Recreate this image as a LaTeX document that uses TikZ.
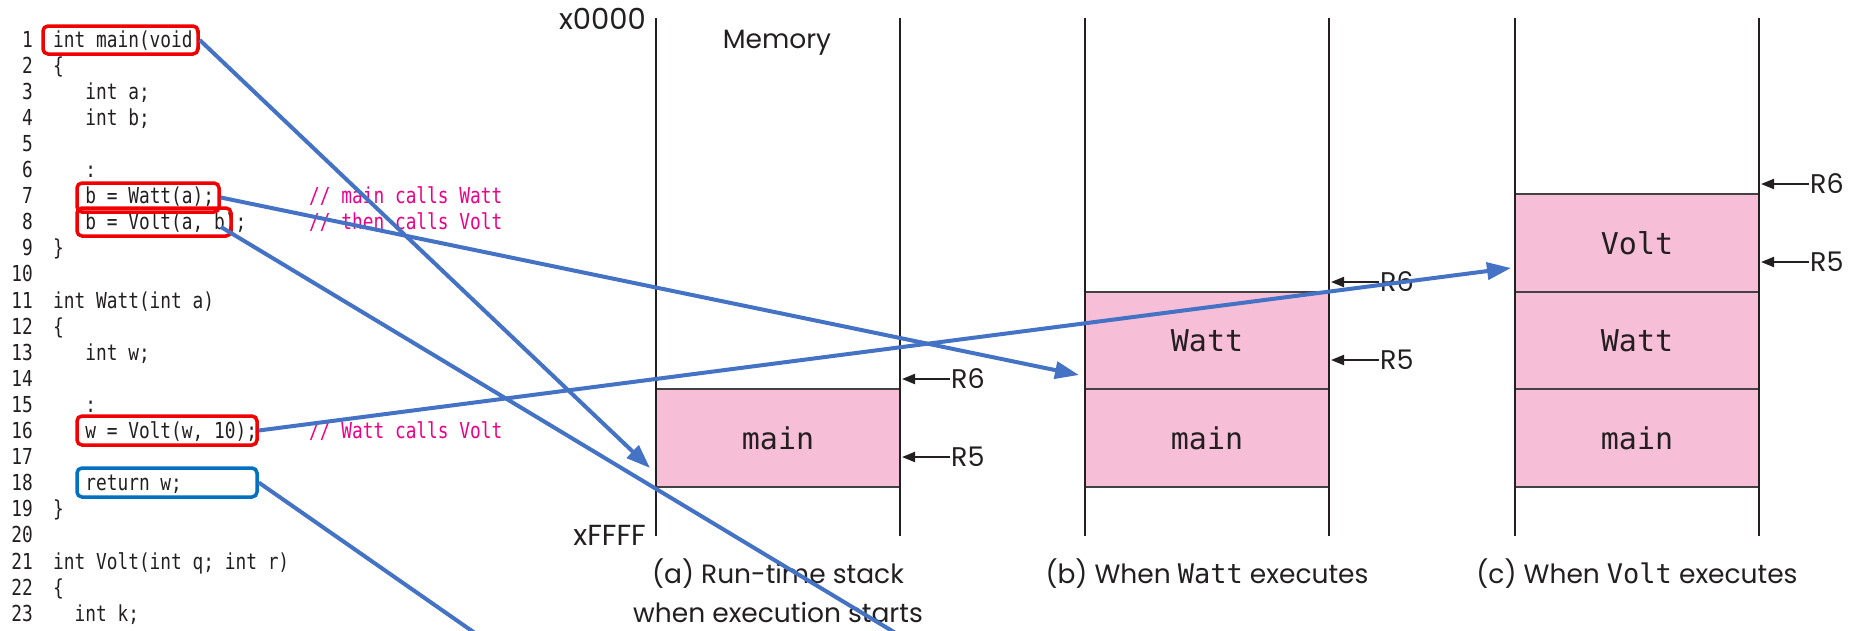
\documentclass[tikz,border=0pt]{standalone}
\usepackage{fontspec}
\usetikzlibrary{arrows.meta,calc}
\newfontfamily\codefont[FakeStretch=0.81]{DejaVu Sans Mono}
\newfontfamily\monofont{DejaVu Sans Mono}
\newfontfamily\labelfont{Poppins}
\definecolor{ink}{HTML}{231F20}
\definecolor{framepink}{HTML}{F7BFD7}
\definecolor{linkblue}{HTML}{4472C4}
\definecolor{callred}{RGB}{240,0,0}
\definecolor{retblue}{HTML}{0070C0}
\definecolor{comment}{RGB}{235,0,139}
\tikzset{
  code/.style={font=\codefont\fontsize{22}{26}\selectfont, text=ink, anchor=base west, inner sep=0pt},
  lnum/.style={font=\codefont\fontsize{22}{26}\selectfont, text=ink, anchor=base east, inner sep=0pt},
  note/.style={font=\codefont\fontsize{22}{26}\selectfont, text=comment, anchor=base west, inner sep=0pt},
  callbox/.style={draw=callred, line width=3.5pt, rounded corners=5pt, inner sep=0pt},
  retbox/.style={draw=retblue, line width=3.5pt, rounded corners=5pt, inner sep=0pt},
  frame/.style={draw=ink!85, fill=framepink, line width=2pt, minimum width=244pt, minimum height=97.5pt, inner sep=0pt,
    font=\monofont\fontsize{30}{34}\selectfont, text=ink},
  wall/.style={draw=ink, line width=2.5pt},
  lab/.style={font=\labelfont\fontsize{26.5}{32}\selectfont, text=ink, inner sep=0pt},
  addr/.style={font=\labelfont\fontsize{29}{34}\selectfont, text=ink, inner sep=0pt, anchor=east},
  reglab/.style={font=\labelfont\fontsize{27}{32}\selectfont, text=ink, inner sep=1pt, anchor=west},
  regarrow/.style={draw=ink, line width=2pt, -{Triangle[length=13pt,width=10pt]}},
  link/.style={draw=linkblue, line width=4pt, -{Triangle[length=24pt,width=17pt]}},
  linkplain/.style={draw=linkblue, line width=4pt},
}
\begin{document}
\begin{tikzpicture}[x=1pt,y=-1pt]
\useasboundingbox (0,0) rectangle (1849,630);
\clip (0,0) rectangle (1849,630);
\fill[white] (0,0) rectangle (1849,630);

% ---- stack frames ----
\node[frame] (aMain) at (778,438) {main};
\node[frame] (bMain) at (1207,438) {main};
\node[frame] (bWatt) at (1207,340.5) {Watt};
\node[frame] (cMain) at (1637,438) {main};
\node[frame] (cWatt) at (1637,340.5) {Watt};
\node[frame] (cVolt) at (1637,243) {Volt};

% ---- memory walls ----
\foreach \s/\xl/\xr in {a/656/900, b/1085/1329, c/1515/1759} {
  \coordinate (\s LT) at (\xl,18);
  \coordinate (\s LB) at (\xl,536);
  \coordinate (\s RT) at (\xr,18);
  \coordinate (\s RB) at (\xr,536);
  \draw[wall] (\s LT) -- (\s LB);
  \draw[wall] (\s RT) -- (\s RB);
}

% ---- frame and stack pointers ----
\foreach \s/\xr/\ysix/\yfive in {a/900/379/457, b/1329/282/360, c/1759/184/262} {
  \node[reglab] (\s R6) at (\xr+50,\ysix) {R6};
  \node[reglab] (\s R5) at (\xr+50,\yfive) {R5};
  \coordinate (\s R6t) at (\xr+2,\ysix);
  \coordinate (\s R5t) at (\xr+2,\yfive);
  \draw[regarrow] (\s R6.west) -- (\s R6t);
  \draw[regarrow] (\s R5.west) -- (\s R5t);
}

% ---- address and caption labels ----
\node[addr] (addrTop) at (646,19) {x0000};
\node[addr] (addrBot) at (646,535) {xFFFF};
\node[lab, anchor=base] (memory) at (777,48) {Memory};
\node[lab, anchor=base] (capA1) at (778,583) {(a) Run-time stack};
\node[lab, anchor=base] (capA2) at (778,622) {when execution starts};
\node[lab, anchor=base] (capB) at (1207,583) {(b) When {\monofont\fontsize{27}{32}\selectfont Watt} executes};
\node[lab, anchor=base] (capC) at (1637,583) {(c) When {\monofont\fontsize{27}{32}\selectfont Volt} executes};

% ---- source listing ----
\foreach \n in {1,...,23} {
  \node[lnum] (ln\n) at (33,{47+26.1*(\n-1)}) {\n};
}
\node[code] (code1)  at (53,47)    {int main(void)};
\node[code] (code2)  at (53,73.1)  {\{};
\node[code] (code3)  at (85.2,99.2)  {int a;};
\node[code] (code4)  at (85.2,125.3) {int b;};
\node[code] (code6)  at (85.2,177.5) {:};
\node[code] (code7)  at (85.2,203.6) {b = Watt(a);};
\node[code] (code8)  at (85.2,229.7) {b = Volt(a, b);};
\node[code] (code9)  at (53,255.8) {\}};
\node[code] (code11) at (53,308)   {int Watt(int a)};
\node[code] (code12) at (53,334.1) {\{};
\node[code] (code13) at (85.2,360.2) {int w;};
\node[code] (code15) at (85.2,412.4) {:};
\node[code] (code16) at (85.2,438.5) {w = Volt(w, 10);};
\node[code] (code18) at (85.2,490.7) {return w;};
\node[code] (code19) at (53,516.8) {\}};
\node[code] (code21) at (53,569)   {int Volt(int q; int r)};
\node[code] (code22) at (53,595.1) {\{};
\node[code] (code23) at (74.5,621.2) {int k;};

\node[note] (note7)  at (309,203.6) {// main calls Watt};
\node[note] (note8)  at (309,229.7) {// then calls Volt};
\node[note] (note16) at (309,438.5) {// Watt calls Volt};

% ---- highlighted statements ----
\node[callbox, minimum width=155pt, minimum height=28pt] (box1)  at (120.5,40) {};
\node[callbox, minimum width=142pt, minimum height=29pt] (box7)  at (148,197.5) {};
\node[callbox, minimum width=154pt, minimum height=28pt] (box8)  at (154,222) {};
\node[callbox, minimum width=180pt, minimum height=29pt] (box16) at (167,430.5) {};
\node[retbox,  minimum width=180pt, minimum height=29pt] (box18) at (167,482.5) {};

% ---- links from statements to stack frames ----
\coordinate (tipA) at (650,468);
\coordinate (tipB) at (1079,375);
\coordinate (tipC) at (1511,268);
\coordinate (startV) at (221,227);
\coordinate (endV) at (957,670);
\coordinate (endR) at (528,670);
\draw[link] (box1.east) -- (tipA);
\draw[link] (box7.east) -- (tipB);
\draw[linkplain] (startV) -- (endV);
\draw[link] (box16.east) -- (tipC);
\draw[linkplain] (box18.east) -- (endR);
\end{tikzpicture}
\end{document}
